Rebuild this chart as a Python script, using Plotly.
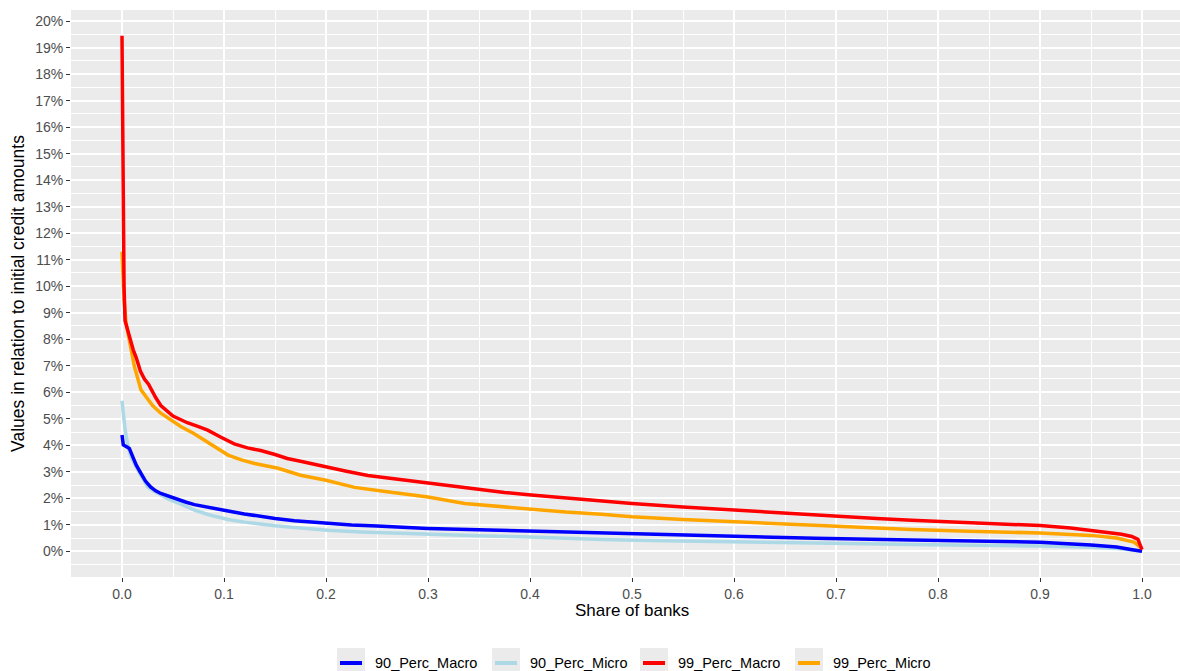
import plotly.graph_objects as go

# Share of banks (x) and loss values in % of initial credit amounts (y)
macro90_x = [0, 0.0013, 0.004, 0.0072, 0.0105, 0.014, 0.0186, 0.023, 0.028, 0.033, 0.038, 0.045,
             0.055, 0.063, 0.071, 0.085, 0.104, 0.12, 0.136, 0.15, 0.169, 0.185, 0.202, 0.225, 0.25,
             0.30, 0.35, 0.40, 0.47, 0.53, 0.60, 0.68, 0.774, 0.85, 0.90, 0.95, 0.975, 0.992, 1.0]
macro90_y = [4.39, 4.01, 3.95, 3.88, 3.57, 3.25, 2.94, 2.65, 2.43, 2.28, 2.18, 2.08,
             1.95, 1.85, 1.76, 1.65, 1.52, 1.41, 1.31, 1.24, 1.15, 1.10, 1.05, 0.99, 0.95,
             0.86, 0.81, 0.76, 0.68, 0.62, 0.55, 0.49, 0.43, 0.38, 0.34, 0.24, 0.16, 0.05, 0.0]

micro90_x = [0, 0.0013, 0.003, 0.006, 0.009, 0.0137, 0.02, 0.025, 0.03, 0.038, 0.045, 0.058,
             0.071, 0.085, 0.104, 0.12, 0.136, 0.15, 0.169, 0.202, 0.234, 0.27, 0.30, 0.35, 0.40,
             0.47, 0.53, 0.60, 0.68, 0.774, 0.85, 0.90, 0.95, 0.98, 1.0]
micro90_y = [5.68, 5.2, 4.6, 3.94, 3.55, 3.19, 2.75, 2.43, 2.3, 2.12, 1.98, 1.78,
             1.55, 1.38, 1.20, 1.10, 1.02, 0.96, 0.90, 0.79, 0.73, 0.68, 0.64, 0.59, 0.54,
             0.44, 0.40, 0.35, 0.31, 0.26, 0.23, 0.20, 0.15, 0.10, 0.0]

macro99_x = [0, 0.001, 0.0015, 0.002, 0.003, 0.005, 0.008, 0.011, 0.014, 0.018, 0.022, 0.026,
             0.033, 0.038, 0.05, 0.064, 0.075, 0.084, 0.097, 0.11, 0.123, 0.136, 0.15, 0.162,
             0.175, 0.185, 0.2, 0.22, 0.241, 0.27, 0.30, 0.325, 0.349, 0.375, 0.401, 0.435,
             0.47, 0.50, 0.55, 0.60, 0.65, 0.70, 0.74, 0.774, 0.82, 0.86, 0.90, 0.93, 0.95,
             0.965, 0.98, 0.99, 0.996, 1.0]
macro99_y = [19.45, 11.2, 10.4, 10.0, 8.7, 8.4, 8.0, 7.6, 7.3, 6.8, 6.5, 6.3,
             5.8, 5.5, 5.1, 4.85, 4.7, 4.57, 4.3, 4.05, 3.9, 3.8, 3.65, 3.5,
             3.4, 3.31, 3.18, 3.02, 2.86, 2.72, 2.58, 2.45, 2.34, 2.22, 2.12, 2.0,
             1.9, 1.8, 1.67, 1.55, 1.43, 1.32, 1.24, 1.17, 1.09, 1.03, 0.97, 0.88, 0.78,
             0.72, 0.64, 0.56, 0.45, 0.06]

micro99_x = [0, 0.001, 0.002, 0.004, 0.0088, 0.012, 0.0186, 0.025, 0.03, 0.038, 0.048, 0.058,
             0.07, 0.084, 0.094, 0.104, 0.117, 0.13, 0.153, 0.175, 0.2, 0.228, 0.26, 0.30,
             0.336, 0.37, 0.401, 0.435, 0.47, 0.50, 0.55, 0.60, 0.65, 0.70, 0.774, 0.83,
             0.90, 0.95, 0.975, 0.992, 1.0]
micro99_y = [11.3, 10.2, 9.5, 8.6, 7.6, 7.0, 6.09, 5.75, 5.5, 5.21, 4.95, 4.70,
             4.45, 4.1, 3.85, 3.63, 3.45, 3.31, 3.13, 2.87, 2.68, 2.41, 2.25, 2.05,
             1.80, 1.68, 1.58, 1.48, 1.40, 1.30, 1.20, 1.11, 1.03, 0.95, 0.82, 0.76,
             0.69, 0.60, 0.50, 0.35, 0.1]

series_names = ["90_Perc_Macro", "90_Perc_Micro", "99_Perc_Macro", "99_Perc_Micro"]
series_colors = ["#0000FF", "#ADD8E6", "#FF0000", "#FFA500"]
x_ticks = [0.0, 0.1, 0.2, 0.3, 0.4, 0.5, 0.6, 0.7, 0.8, 0.9, 1.0]
y_ticks = list(range(0, 21))

data = {
    "90_Perc_Macro": (macro90_x, macro90_y),
    "90_Perc_Micro": (micro90_x, micro90_y),
    "99_Perc_Macro": (macro99_x, macro99_y),
    "99_Perc_Micro": (micro99_x, micro99_y),
}
color_of = dict(zip(series_names, series_colors))

W, H = 1180, 671
L, R, T, B = 71, 0, 10, 94
plot_w = W - L - R
plot_h = H - T - B

fig = go.Figure()
# micro curves underneath, macro curves on top
for name in ["90_Perc_Micro", "99_Perc_Micro", "90_Perc_Macro", "99_Perc_Macro"]:
    xs, ys = data[name]
    fig.add_trace(go.Scatter(x=xs, y=ys, mode="lines", name=name, showlegend=False,
                             line=dict(color=color_of[name], width=3.5)))

def px_to_paper_x(px):
    return (px - L) / plot_w

def px_to_paper_y(py):
    return (H - B - py) / plot_h

# ggplot-style legend below the panel: grey key boxes with a short line and a label
shapes = []
annotations = []
key_left = [337, 492, 640, 795]
for name, kx in zip(series_names, key_left):
    shapes.append(dict(type="rect", xref="paper", yref="paper",
                       x0=px_to_paper_x(kx), x1=px_to_paper_x(kx + 28),
                       y0=px_to_paper_y(676), y1=px_to_paper_y(648),
                       fillcolor="#EBEBEB", line=dict(width=0), layer="above"))
    shapes.append(dict(type="line", xref="paper", yref="paper",
                       x0=px_to_paper_x(kx + 3), x1=px_to_paper_x(kx + 25),
                       y0=px_to_paper_y(663), y1=px_to_paper_y(663),
                       line=dict(color=color_of[name], width=4), layer="above"))
    annotations.append(dict(text=name, xref="paper", yref="paper",
                            x=px_to_paper_x(kx + 36), y=px_to_paper_y(663),
                            xanchor="left", yanchor="middle", showarrow=False,
                            font=dict(size=14.5, color="#000000")))

# x axis title centred on the full (expanded) panel
annotations.append(dict(text="Share of banks", xref="paper", yref="paper",
                        x=px_to_paper_x(631.5), y=px_to_paper_y(611),
                        xanchor="center", yanchor="middle", showarrow=False,
                        font=dict(size=17, color="#000000")))

fig.update_layout(
    width=W, height=H,
    margin=dict(l=L, r=R, t=T, b=B),
    paper_bgcolor="#FFFFFF",
    plot_bgcolor="#EBEBEB",
    font=dict(family="Liberation Sans, Arial, sans-serif", color="#000000"),
    shapes=shapes,
    annotations=annotations,
    showlegend=False,
)

fig.update_xaxes(
    range=[-0.05, -0.05 + plot_w / 1020],
    tickvals=x_ticks,
    ticktext=[f"{v:.1f}" for v in x_ticks],
    tickfont=dict(size=14, color="#4D4D4D"),
    ticks="outside", ticklen=4, tickwidth=1.1, tickcolor="#333333",
    showgrid=True, gridcolor="#FFFFFF", gridwidth=2,
    minor=dict(dtick=0.05, tick0=0, showgrid=True, gridcolor="#FFFFFF", gridwidth=1, ticks=""),
    zeroline=False, showline=False,
)

fig.update_yaxes(
    range=[-0.97, 20.42],
    tickvals=y_ticks,
    ticktext=[f"{v}%" for v in y_ticks],
    tickfont=dict(size=14, color="#4D4D4D"),
    ticks="outside", ticklen=4, tickwidth=1.1, tickcolor="#333333",
    showgrid=True, gridcolor="#FFFFFF", gridwidth=2,
    minor=dict(dtick=0.5, tick0=0, showgrid=True, gridcolor="#FFFFFF", gridwidth=1, ticks=""),
    zeroline=False, showline=False,
    title=dict(text="Values in relation to initial credit amounts",
               font=dict(size=17.5, color="#000000"), standoff=6),
    automargin=False,
)

fig.write_html("out.html")
